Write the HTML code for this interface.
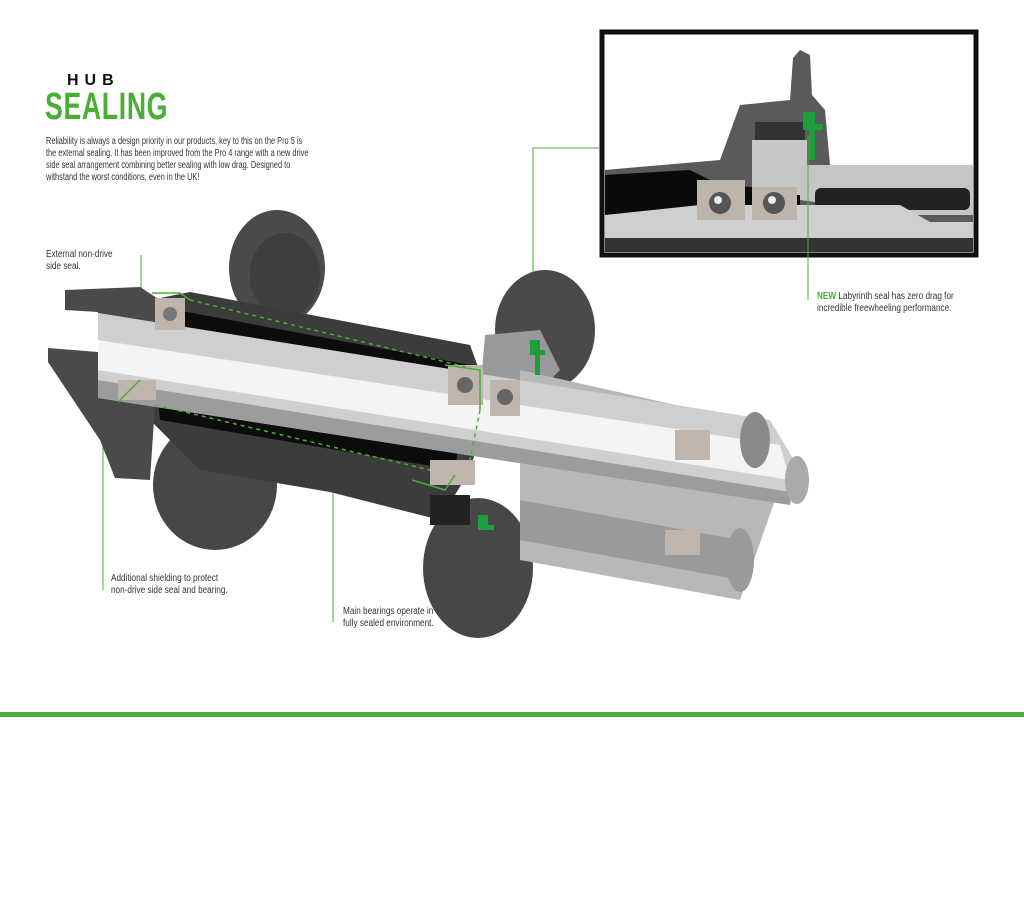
<!DOCTYPE html>
<html><head><meta charset="utf-8"><style>
body{margin:0;background:#fff;width:1024px;height:911px;overflow:hidden;font-family:"Liberation Sans",sans-serif}
.t{position:absolute;z-index:2;color:#333;font-size:10px;line-height:12px;transform:scaleX(0.82);transform-origin:left top;white-space:nowrap}
</style></head><body>
<svg width="1024" height="911" style="position:absolute;left:0;top:0" xmlns="http://www.w3.org/2000/svg">
<rect x="602" y="32" width="374" height="223" fill="#fff" stroke="#111" stroke-width="5"/>
<polygon points="605,170 720,160 740,105 790,100 793,58 800,50 810,55 812,95 825,110 830,165 973,165 973,230 605,230" fill="#5a5a5a"/>
<polygon points="605,175 690,170 720,185 800,190 800,205 605,220" fill="#0a0a0a"/>
<rect x="752" y="140" width="55" height="55" fill="#c8c8c8"/>
<polygon points="800,165 973,165 973,215 905,215 800,200" fill="#c5c5c5"/>
<rect x="815" y="188" width="155" height="22" rx="6" fill="#222"/>
<polygon points="605,215 700,205 900,205 930,222 973,222 973,238 605,238" fill="#cfcfcf"/>
<rect x="605" y="238" width="368" height="14" fill="#333"/>
<rect x="697" y="180" width="48" height="40" fill="#bdb4ac"/>
<rect x="752" y="187" width="45" height="33" fill="#bdb4ac"/>
<circle cx="720" cy="203" r="11" fill="#555"/><circle cx="774" cy="203" r="11" fill="#555"/>
<circle cx="718" cy="200" r="4" fill="#eee"/><circle cx="772" cy="200" r="4" fill="#eee"/>
<rect x="755" y="122" width="50" height="18" fill="#333"/>
<path d="M803,112 h12 v12 h8 v6 h-8 v30 h-6 v-30 h-6z" fill="#1e9e3a"/>
<g stroke="#4aae35" stroke-width="1" fill="none">
<polyline points="600,148 533,148 533,352"/>
<line x1="808" y1="135" x2="808" y2="300"/>
<line x1="141" y1="255" x2="141" y2="292"/>
<line x1="103" y1="378" x2="103" y2="590"/>
<line x1="333" y1="456" x2="333" y2="622"/>
</g>
<ellipse cx="277" cy="268" rx="48" ry="58" fill="#4a4a4a"/>
<ellipse cx="285" cy="275" rx="35" ry="42" fill="#3e3e3e"/>
<ellipse cx="545" cy="330" rx="50" ry="60" fill="#4a4a4a"/>
<ellipse cx="478" cy="568" rx="55" ry="70" fill="#474747"/>
<ellipse cx="215" cy="485" rx="62" ry="65" fill="#474747"/>
<polygon points="190,292 470,345 490,400 470,470 440,520 330,492 200,470 150,420 150,300" fill="#3c3c3c"/>
<polygon points="150,305 470,365 455,470 160,420" fill="#0c0c0c"/>
<polygon points="65,290 140,287 160,300 160,330 150,480 115,478 100,440 48,362 48,348 98,352 98,312 65,310" fill="#4a4a4a"/>
<polygon points="485,335 540,330 560,370 530,400 480,395" fill="#999"/>
<polygon points="520,370 765,425 775,500 740,600 520,560" fill="#b8b8b8"/>
<polygon points="520,390 760,450 760,470 520,420" fill="#e6e6e6"/>
<polygon points="520,500 740,540 740,580 520,540" fill="#9a9a9a"/>
<polygon points="98,313 770,420 800,470 790,505 98,398" fill="#cfcfcf"/>
<polygon points="98,340 780,445 790,480 98,370" fill="#f4f4f4"/>
<polygon points="98,380 790,492 790,505 98,398" fill="#9c9c9c"/>
<ellipse cx="797" cy="480" rx="12" ry="24" fill="#aaa"/>
<ellipse cx="755" cy="440" rx="15" ry="28" fill="#8a8a8a"/>
<ellipse cx="740" cy="560" rx="14" ry="32" fill="#9a9a9a"/>
<rect x="448" y="365" width="35" height="40" fill="#c0b5ad"/>
<rect x="490" y="380" width="30" height="36" fill="#c0b5ad"/>
<circle cx="465" cy="385" r="8" fill="#666"/><circle cx="505" cy="397" r="8" fill="#666"/>
<rect x="155" y="298" width="30" height="32" fill="#c0b5ad"/><circle cx="170" cy="314" r="7" fill="#777"/>
<rect x="118" y="380" width="38" height="20" fill="#c0b5ad"/>
<rect x="430" y="460" width="45" height="25" fill="#c0b5ad"/>
<rect x="430" y="495" width="40" height="30" fill="#222"/>
<rect x="675" y="430" width="35" height="30" fill="#c0b5ad"/>
<rect x="665" y="530" width="35" height="25" fill="#c0b5ad"/>
<path d="M530,340 h10 v10 h5 v5 h-5 v20 h-5 v-20 h-5z" fill="#1e9e3a"/>
<path d="M478,515 h10 v10 h6 v5 h-16z" fill="#1e9e3a"/>
<g stroke="#4aae35" stroke-width="1.5" fill="none">
<polyline points="152,293 180,293 190,300"/>
<polyline points="445,365 480,370 480,410"/>
<polyline points="118,402 140,380"/>
<polyline points="412,480 445,490 455,475"/>
<polyline points="190,300 470,368" stroke-dasharray="4,4"/>
<polyline points="155,405 430,470" stroke-dasharray="4,4"/>
<line x1="480" y1="410" x2="470" y2="460" stroke-dasharray="4,4"/>
</g>
</svg>
<div style="position:absolute;left:67px;top:72px;font-size:16px;font-weight:bold;letter-spacing:6px;color:#111">HUB</div>
<div style="position:absolute;left:45px;top:88px;font-size:38px;font-weight:bold;color:#4aae35;transform:scaleX(0.70);transform-origin:left top;letter-spacing:1px;line-height:38px">SEALING</div>
<div class="t" style="left:46px;top:136px;transform:scaleX(0.74)">Reliability is always a design priority in our products, key to this on the Pro 5 is<br>the external sealing. It has been improved from the Pro 4 range with a new drive<br>side seal arrangement combining better sealing with low drag. Designed to<br>withstand the worst conditions, even in the UK!</div>
<div class="t" style="left:46px;top:249px">External non-drive<br>side seal.</div>
<div class="t" style="left:111px;top:573px">Additional shielding to protect<br>non-drive side seal and bearing.</div>
<div class="t" style="left:343px;top:606px">Main bearings operate in<br>fully sealed environment.</div>
<div class="t" style="left:817px;top:291px"><b style="color:#4aae35">NEW</b> Labyrinth seal has zero drag for<br>incredible freewheeling performance.</div>
<div style="position:absolute;left:0;top:712px;width:1024px;height:5px;background:#4fae3c"></div>
</body></html>
